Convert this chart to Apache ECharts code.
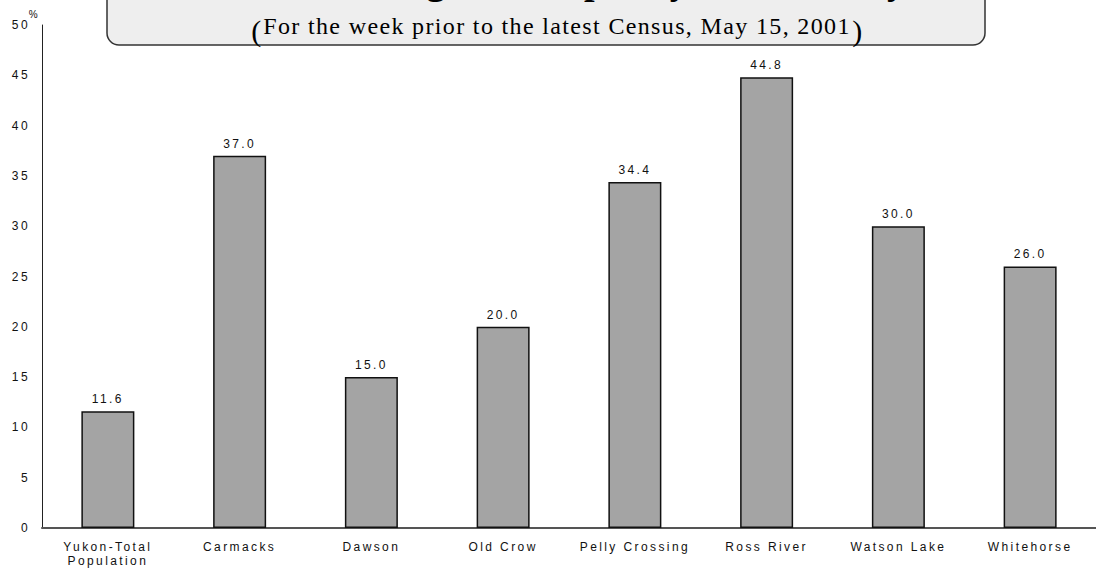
<!DOCTYPE html>
<html>
<head>
<meta charset="utf-8">
<script src="https://cdn.jsdelivr.net/npm/echarts@6/dist/echarts.min.js"></script>
<style>
  html, body { margin: 0; padding: 0; background: #fff; }
  #chart { width: 1096px; height: 568px; }
  #chart svg text { letter-spacing: 2.4px; }
  #chart svg text[style*="Serif"] { letter-spacing: 1.35px; }
</style>
</head>
<body>
<div id="chart"></div>
<script>
const categories = ['Yukon-Total\nPopulation', 'Carmacks', 'Dawson', 'Old Crow', 'Pelly Crossing', 'Ross River', 'Watson Lake', 'Whitehorse'];
const values = [11.6, 37.0, 15.0, 20.0, 34.4, 44.8, 30.0, 26.0];
const titleText = 'Percentage of People by Community';
const subtitleText = 'For the week prior to the latest Census, May 15, 2001';
const axisUnit = '%';

const serif = "'Liberation Serif'";
const chart = echarts.init(document.getElementById('chart'), null, { renderer: 'svg' });
chart.setOption({
  animation: false,
  backgroundColor: '#ffffff',
  grid: { left: 42, top: 25, width: 1066, bottom: 38, containLabel: false },
  graphic: [
    {
      type: 'rect', z: 10,
      shape: { x: 107, y: -40, width: 878, height: 85, r: 12 },
      style: { fill: '#eeeeee', stroke: '#333333', lineWidth: 1.5 }
    },
    {
      type: 'text', z: 11, x: 590, y: -19,
      style: { text: titleText, fill: '#000', font: "bold 38px " + serif, align: 'center', verticalAlign: 'middle' }
    },
    {
      type: 'text', z: 11, x: 557, y: 26,
      style: { text: subtitleText, fill: '#000', font: "24px " + serif, align: 'center', verticalAlign: 'middle' }
    },
    {
      type: 'text', z: 11, x: 257, y: 30,
      style: { text: '(', fill: '#000', font: "30px " + serif, align: 'center', verticalAlign: 'middle' }
    },
    {
      type: 'text', z: 11, x: 858, y: 30,
      style: { text: ')', fill: '#000', font: "30px " + serif, align: 'center', verticalAlign: 'middle' }
    }
  ],
  xAxis: {
    type: 'category',
    data: categories,
    axisLine: { show: true, lineStyle: { color: '#555', width: 2 } },
    axisTick: { show: false },
    axisLabel: { color: '#111', fontSize: 12, fontFamily: 'Liberation Sans', margin: 12, lineHeight: 14, interval: 0 },
    splitLine: { show: false }
  },
  yAxis: {
    type: 'value',
    min: 0, max: 50, interval: 5,
    name: axisUnit,
    nameLocation: 'end',
    nameGap: 4,
    nameTextStyle: { color: '#111', fontSize: 10, fontFamily: 'Liberation Sans', align: 'right', padding: [0, 2, 0, 0] },
    axisLine: { show: true, lineStyle: { color: '#222', width: 1 } },
    axisTick: { show: false },
    axisLabel: { color: '#111', fontSize: 12, fontFamily: 'Liberation Sans', margin: 12 },
    splitLine: { show: false }
  },
  series: [{
    type: 'bar',
    data: values,
    barWidth: 53,
    itemStyle: { color: '#a4a4a4', borderColor: '#111', borderWidth: 1.5 },
    label: {
      show: true, position: 'top', distance: 6,
      color: '#111', fontSize: 12, fontFamily: 'Liberation Sans',
      formatter: p => p.value.toFixed(1)
    }
  }]
});
</script>
</body>
</html>
